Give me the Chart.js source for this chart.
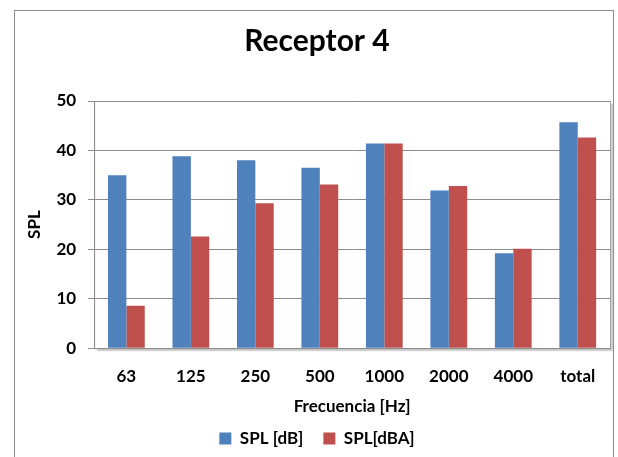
<!DOCTYPE html>
<html>
<head>
<meta charset="utf-8">
<script src="https://cdn.jsdelivr.net/npm/chart.js@4/dist/chart.umd.min.js"></script>
<style>
  html, body { margin: 0; padding: 0; background: #fff; }
  #wrap { width: 618px; height: 457px; position: relative; }
</style>
</head>
<body>
<div id="wrap"><canvas id="chart"></canvas></div>
<script>
// Data
const categories = ['63', '125', '250', '500', '1000', '2000', '4000', 'total'];
const splDb = [35.0, 38.8, 38.0, 36.5, 41.4, 31.9, 19.2, 45.7];
const splDba = [8.6, 22.6, 29.3, 33.1, 41.4, 32.8, 20.1, 42.6];
const yTicks = [0, 10, 20, 30, 40, 50];

const FONT = 'Lato, "Open Sans", sans-serif';

// outer frame + plot area drop shadow
const framePlugin = {
    id: 'frame',
    beforeDraw(chart) {
        const c = chart.ctx;
        const a = chart.chartArea;
        c.save();
        c.fillStyle = '#fff';
        c.fillRect(0, 0, chart.width, chart.height);
        c.strokeStyle = '#8c8c8c';
        c.lineWidth = 1;
        c.strokeRect(14.5, 10.5, 599, 460);
        // shadow
        c.fillStyle = 'rgba(0,0,0,0.18)';
        c.fillRect(a.left + 3, a.top + 3, a.right - a.left, a.bottom - a.top);
        c.fillStyle = '#fff';
        c.fillRect(a.left, a.top, a.right - a.left, a.bottom - a.top);
        c.strokeStyle = '#a0a0a0';
        c.strokeRect(a.left + 0.5, a.top + 0.5, a.right - a.left, a.bottom - a.top);
        c.restore();
    }
};

const ctx = document.getElementById('chart').getContext('2d');
const chart = new Chart(ctx, {
    type: 'bar',
    data: {
        labels: categories,
        datasets: [{
            label: 'SPL [dB]',
            data: splDb,
            backgroundColor: '#4F81BD',
            borderWidth: 0
        }, {
            label: 'SPL[dBA]',
            data: splDba,
            backgroundColor: '#C0504D',
            borderWidth: 0
        }]
    },
    options: {
        responsive: true,
        maintainAspectRatio: false,
        animation: false,
        layout: { padding: { left: 24, right: 8, top: 14, bottom: 0 } },
        datasets: {
            bar: { categoryPercentage: 0.57, barPercentage: 1.0 }
        },
        plugins: {
            title: {
                display: true,
                text: 'Receptor 4',
                color: '#000',
                font: { family: FONT, size: 30, weight: 'bold' },
                padding: { top: 9, bottom: 42 }
            },
            legend: {
                position: 'bottom',
                labels: {
                    color: '#000',
                    font: { family: FONT, size: 17, weight: 'bold' },
                    boxWidth: 12,
                    boxHeight: 12,
                    padding: 20
                }
            },
            tooltip: { enabled: false }
        },
        scales: {
            x: {
                grid: { display: false },
                border: { display: true, color: '#8c8c8c' },
                ticks: {
                    color: '#000',
                    padding: 10,
                    maxRotation: 0,
                    font: { family: FONT, size: 17, weight: 'bold' }
                },
                title: {
                    display: true,
                    text: 'Frecuencia [Hz]',
                    color: '#000',
                    font: { family: FONT, size: 17, weight: 'bold' },
                    padding: { top: 0, bottom: -7 }
                }
            },
            y: {
                min: yTicks[0],
                max: yTicks[yTicks.length - 1],
                afterBuildTicks(scale) {
                    scale.ticks = yTicks.map(v => ({ value: v }));
                },
                grid: {
                    color: '#8c8c8c',
                    tickLength: 6,
                    drawTicks: true
                },
                border: { display: true, color: '#8c8c8c' },
                ticks: {
                    color: '#000',
                    padding: 12,
                    font: { family: FONT, size: 17, weight: 'bold' }
                },
                title: {
                    display: true,
                    text: 'SPL',
                    color: '#000',
                    font: { family: FONT, size: 17, weight: 'bold' },
                    padding: { top: 0, bottom: 0 }
                }
            }
        }
    },
    plugins: [framePlugin]
});
</script>
</body>
</html>
